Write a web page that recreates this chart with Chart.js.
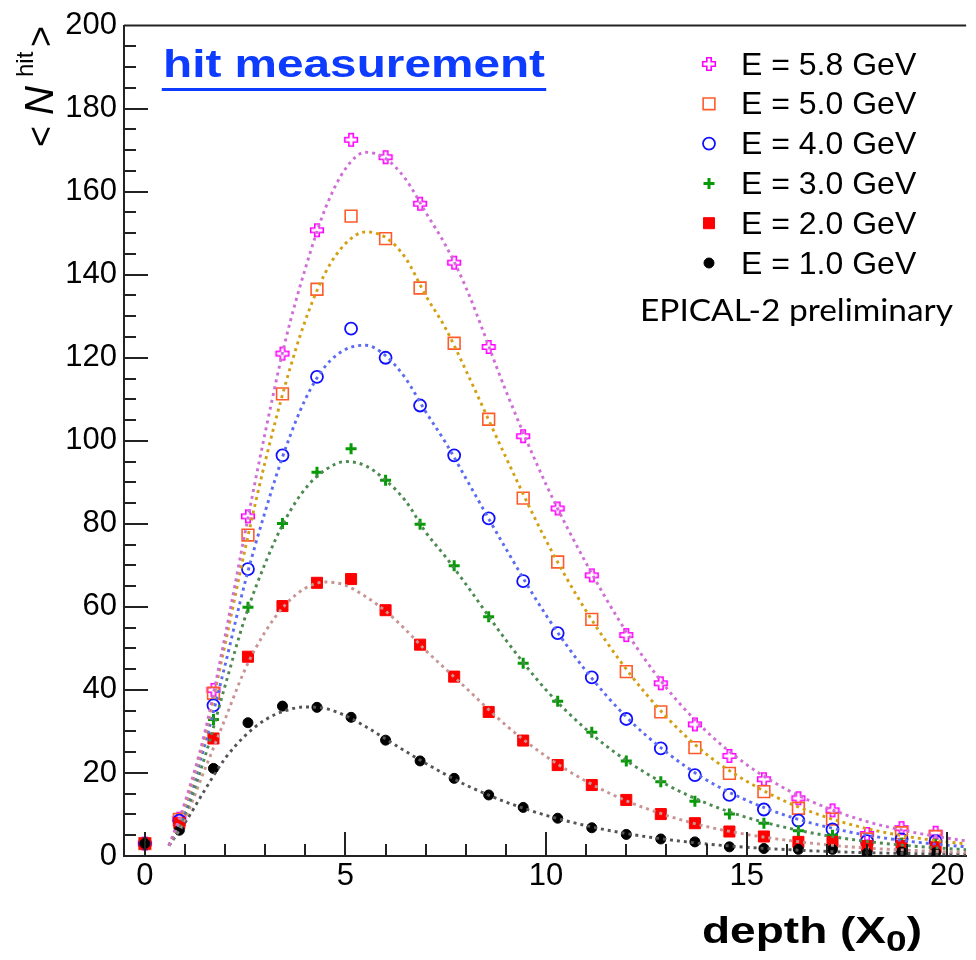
<!DOCTYPE html>
<html>
<head>
<meta charset="utf-8">
<script src="https://cdn.jsdelivr.net/npm/chart.js@4.4.0/dist/chart.umd.min.js"></script>
<style>
  html, body { margin: 0; padding: 0; background: #fff; }
  #wrap { width: 976px; height: 960px; }
</style>
</head>
<body>
<div id="wrap"><canvas id="hitChart" width="976" height="960"></canvas></div>
<script>
// depth of each layer in X0
const depths = [0, 0.86, 1.71, 2.57, 3.43, 4.29, 5.14, 6.0, 6.86, 7.71, 8.57, 9.43,
  10.29, 11.14, 12.0, 12.86, 13.71, 14.57, 15.43, 16.29, 17.14, 18.0, 18.86, 19.71];

const energyLabels = ['E = 5.8 GeV', 'E = 5.0 GeV', 'E = 4.0 GeV', 'E = 3.0 GeV', 'E = 2.0 GeV', 'E = 1.0 GeV'];

// mean number of hits per layer
const hits58 = [3.0, 9.0, 40.0, 81.8, 121.0, 150.7, 172.5, 168.3, 157.1, 142.9, 122.6, 101.1,
  83.7, 67.6, 53.2, 41.6, 31.7, 24.1, 18.5, 13.9, 11.0, 5.3, 6.7, 5.6];
const hits50 = [3.0, 8.8, 39.2, 77.3, 111.3, 136.5, 154.1, 148.7, 136.8, 123.5, 105.2, 86.2,
  70.8, 57.0, 44.4, 34.7, 26.1, 19.9, 15.5, 11.5, 8.9, 4.1, 5.6, 4.7];
const hits40 = [3.0, 8.5, 36.3, 69.1, 96.5, 115.4, 127.0, 120.0, 108.5, 96.5, 81.3, 66.2,
  53.7, 43.0, 33.0, 25.9, 19.5, 14.7, 11.2, 8.5, 6.4, 3.6, 4.0, 3.6];
const hits30 = [3.0, 7.5, 32.9, 59.9, 80.1, 92.4, 98.1, 90.5, 79.9, 69.9, 57.6, 46.4,
  37.3, 29.8, 22.9, 17.9, 13.2, 10.1, 7.9, 6.1, 5.0, 2.6, 3.1, 2.9];
const hits20 = [3.0, 7.9, 28.3, 48.0, 60.2, 65.8, 66.7, 59.2, 50.9, 43.2, 34.7, 27.8,
  21.9, 17.1, 13.5, 10.1, 7.9, 5.9, 4.7, 3.4, 3.4, 2.4, 2.4, 2.1];
const hits10 = [3.0, 6.2, 21.1, 32.1, 36.1, 35.8, 33.4, 27.9, 22.9, 18.7, 14.7, 11.7,
  9.1, 6.8, 5.2, 4.1, 3.4, 2.2, 1.8, 1.6, 1.6, 0.7, 1.0, 0.8];

// fitted shower profiles
const fitDepths = [0.6, 1, 1.5, 2, 2.5, 3, 3.5, 4, 4.5, 5, 5.5, 6, 6.5, 7, 7.5, 8,
  9, 10, 11, 12, 13, 14, 15, 16, 17, 18, 19, 20, 20.5];
const fit58 = [2.5, 13, 30, 53, 78, 102, 124, 141.5, 156, 165.5, 169.5, 168, 163, 155, 147, 137,
  112, 89.5, 70.5, 54, 40.5, 30, 22, 16, 11.6, 8.3, 6, 4.3, 3.6];
const fit50 = [2.5, 12, 29, 51, 74, 95, 113.5, 129, 140.5, 147.5, 150.3, 149, 144, 135, 127, 117,
  96, 76, 59, 45, 33.5, 24.5, 18, 13, 9.3, 6.6, 4.7, 3.4, 2.9];
const fit40 = [2.5, 11, 27, 46, 66, 83, 98, 110, 118, 122, 123, 120.5, 115, 107, 99.5, 91,
  74, 58, 44.5, 33.5, 25, 18.3, 13.4, 9.7, 7, 5, 3.6, 2.6, 2.2];
const fit30 = [2.5, 10, 24, 41, 57.5, 70.5, 81, 88.5, 93, 95, 94, 90.5, 85.5, 78, 72, 65.5,
  52, 40, 30.5, 23, 17.2, 12.7, 9.3, 6.8, 4.9, 3.5, 2.5, 1.8, 1.5];
const fit20 = [2.5, 9, 21, 33, 45, 54, 60.5, 64.5, 66, 65.2, 62.5, 59, 54.5, 49.5, 45, 40.5,
  31.5, 24, 18, 13.3, 9.8, 7.1, 5.2, 3.8, 2.7, 1.9, 1.4, 1.0, 0.85];
const fit10 = [2.5, 8, 16, 23.5, 29, 32.8, 35, 35.9, 35.5, 33.8, 31.2, 28.2, 25.2, 22.3, 19.6, 17.1,
  13, 9.8, 7.3, 5.4, 4, 2.9, 2.1, 1.55, 1.1, 0.8, 0.6, 0.45, 0.4];

const xTickValues = [0, 5, 10, 15, 20];
const yTickValues = [0, 20, 40, 60, 80, 100, 120, 140, 160, 180, 200];

const FONT = '"Liberation Sans", Arial, Helvetica, sans-serif';

// ROOT style open cross marker
function makeOpenCross(color) {
  const c = document.createElement('canvas');
  c.width = 16; c.height = 16;
  const g = c.getContext('2d');
  const a = 6.3, b = 2.2, m = 8;
  g.strokeStyle = color;
  g.lineWidth = 1.6;
  g.beginPath();
  g.moveTo(m - b, m - a); g.lineTo(m + b, m - a); g.lineTo(m + b, m - b);
  g.lineTo(m + a, m - b); g.lineTo(m + a, m + b); g.lineTo(m + b, m + b);
  g.lineTo(m + b, m + a); g.lineTo(m - b, m + a); g.lineTo(m - b, m + b);
  g.lineTo(m - a, m + b); g.lineTo(m - a, m - b); g.lineTo(m - b, m - b);
  g.closePath();
  g.stroke();
  return c;
}

const toPoints = (xs, ys) => xs.map((x, i) => ({ x: x, y: ys[i] }));

// marker style for each energy, same order as the legend
const markerSets = [
  { data: hits58, pointStyle: makeOpenCross('#ff00ff'), pointRadius: 7, borderColor: '#ff00ff', backgroundColor: 'rgba(0,0,0,0)', borderWidth: 1.5 },
  { data: hits50, pointStyle: 'rect', pointRadius: 8.3, borderColor: '#ff5a2a', backgroundColor: 'rgba(0,0,0,0)', borderWidth: 1.6 },
  { data: hits40, pointStyle: 'circle', pointRadius: 6, borderColor: '#1010ff', backgroundColor: 'rgba(0,0,0,0)', borderWidth: 1.8 },
  { data: hits30, pointStyle: 'cross', pointRadius: 5.5, borderColor: '#079a07', backgroundColor: '#079a07', borderWidth: 3 },
  { data: hits20, pointStyle: 'rect', pointRadius: 7.8, borderColor: '#ff0000', backgroundColor: '#ff0000', borderWidth: 1 },
  { data: hits10, pointStyle: 'circle', pointRadius: 5, borderColor: '#000000', backgroundColor: '#000000', borderWidth: 1 }
];

const fitSets = [
  { data: fit58, color: '#cf6fd6' },
  { data: fit50, color: '#d3a013' },
  { data: fit40, color: '#5c6cf2' },
  { data: fit30, color: '#4d8a52' },
  { data: fit20, color: '#c99494' },
  { data: fit10, color: '#555555' }
];

const datasets = [];
fitSets.forEach((f) => {
  datasets.push({
    data: toPoints(fitDepths, f.data),
    showLine: true,
    borderColor: f.color,
    borderWidth: 2.9,
    borderDash: [3, 4],
    pointRadius: 0,
    fill: false,
    cubicInterpolationMode: 'monotone',
    order: 1
  });
});
markerSets.slice().reverse().forEach((m) => {
  datasets.push({
    data: toPoints(depths, m.data),
    showLine: false,
    pointStyle: m.pointStyle,
    pointRadius: m.pointRadius,
    pointBorderColor: m.borderColor,
    pointBackgroundColor: m.backgroundColor,
    pointBorderWidth: m.borderWidth,
    order: 2
  });
});

// frame, inward ticks, titles and legend
const decorations = {
  id: 'decorations',
  afterDraw(chart) {
    const ctx = chart.ctx;
    const area = chart.chartArea;
    const xs = chart.scales.x;
    const ys = chart.scales.y;

    ctx.save();
    ctx.strokeStyle = '#222';
    ctx.lineWidth = 2;
    ctx.beginPath();
    ctx.moveTo(area.left, area.top);
    ctx.lineTo(area.right, area.top);
    for (let v = 0; v <= 20; v++) {
      const px = Math.round(xs.getPixelForValue(v));
      const len = v % 5 === 0 ? 24 : 12;
      ctx.moveTo(px, area.bottom);
      ctx.lineTo(px, area.bottom - len);
    }
    for (let v = 5; v < 200; v += 5) {
      const py = Math.round(ys.getPixelForValue(v));
      const len = v % 20 === 0 ? 24 : 12;
      ctx.moveTo(area.left, py);
      ctx.lineTo(area.left + len, py);
    }
    ctx.stroke();
    ctx.restore();

    // title
    ctx.save();
    ctx.font = 'bold 39px ' + FONT;
    ctx.fillStyle = '#0d3cff';
    ctx.textBaseline = 'alphabetic';
    const title = 'hit measurement';
    const tw = ctx.measureText(title).width;
    ctx.translate(163, 77);
    ctx.scale(382 / tw, 1);
    ctx.fillText(title, 0, 0);
    ctx.fillRect(-1, 11, tw + 2, 3);
    ctx.restore();

    // legend
    ctx.save();
    ctx.font = '32px ' + FONT;
    ctx.fillStyle = '#000';
    ctx.textBaseline = 'alphabetic';
    markerSets.forEach((m, i) => {
      const y = 64 + i * 39.8;
      ctx.save();
      ctx.fillStyle = m.backgroundColor;
      ctx.strokeStyle = m.borderColor;
      ctx.lineWidth = m.borderWidth;
      Chart.helpers.drawPoint(ctx, { pointStyle: m.pointStyle, radius: m.pointRadius, borderWidth: m.borderWidth, rotation: 0 }, 709, y);
      ctx.restore();
      ctx.fillText(energyLabels[i], 741, y + 10.5);
    });
    ctx.font = '31px Lato, "Open Sans", sans-serif';
    const note = 'EPICAL-2 preliminary';
    const nw = ctx.measureText(note).width;
    ctx.translate(640, 321);
    ctx.scale(313 / nw, 1);
    ctx.fillText(note, 0, 0);
    ctx.restore();

    // y axis title  < N^hit >
    ctx.save();
    ctx.fillStyle = '#000';
    ctx.textBaseline = 'alphabetic';
    ctx.translate(53, 147);
    ctx.rotate(-Math.PI / 2);
    ctx.font = '36px ' + FONT;
    ctx.fillText('<', 0, 0);
    ctx.font = 'italic 40px ' + FONT;
    ctx.fillText('N', 32, 0);
    ctx.font = '24px ' + FONT;
    ctx.fillText('hit', 70, -20);
    ctx.font = '36px ' + FONT;
    ctx.fillText('>', 100, 0);
    ctx.restore();

    // x axis title  depth (X0)
    ctx.save();
    ctx.fillStyle = '#000';
    ctx.textBaseline = 'alphabetic';
    const big = 'bold 36px ' + FONT;
    const small = 'bold 29px ' + FONT;
    ctx.font = big;
    const w1 = ctx.measureText('depth (X').width;
    const w3 = ctx.measureText(')').width;
    ctx.font = small;
    const w2 = ctx.measureText('0').width;
    const sx = 220 / (w1 + w2 + w3);
    ctx.translate(702, 943);
    ctx.scale(sx, 1);
    ctx.font = big;
    ctx.fillText('depth (X', 0, 0);
    ctx.font = small;
    ctx.fillText('0', w1, 8);
    ctx.font = big;
    ctx.fillText(')', w1 + w2, 0);
    ctx.restore();
  }
};

new Chart(document.getElementById('hitChart'), {
  type: 'scatter',
  data: { datasets: datasets },
  options: {
    responsive: false,
    animation: false,
    layout: { padding: { top: 24, left: 0, right: 0, bottom: 0 } },
    plugins: { legend: { display: false }, tooltip: { enabled: false } },
    scales: {
      x: {
        type: 'linear',
        min: -0.52,
        max: 20.47,
        grid: { display: false, drawTicks: false },
        border: { display: true, color: '#222', width: 2 },
        ticks: { font: { family: FONT, size: 31 }, color: '#000', padding: 2, maxRotation: 0, autoSkip: false },
        afterBuildTicks: (s) => { s.ticks = xTickValues.map((v) => ({ value: v })); },
        afterFit: (s) => { s.height = 104; }
      },
      y: {
        type: 'linear',
        min: 0,
        max: 200,
        grid: { display: false, drawTicks: false },
        border: { display: true, color: '#222', width: 2 },
        ticks: { font: { family: FONT, size: 31 }, color: '#000', padding: 7, autoSkip: false },
        afterBuildTicks: (s) => { s.ticks = yTickValues.map((v) => ({ value: v })); },
        afterFit: (s) => { s.width = 124; }
      }
    }
  },
  plugins: [decorations]
});
</script>
</body>
</html>
